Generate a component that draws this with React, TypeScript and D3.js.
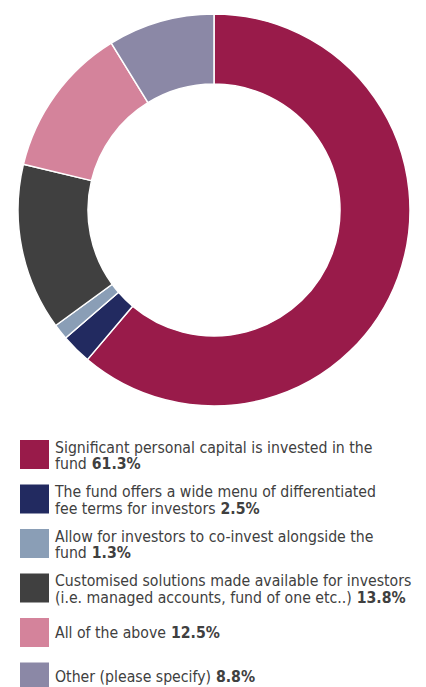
import React from "react";
import * as d3 from "d3";

const labels: string[][] = [
  ["Significant personal capital is invested in the", "fund"],
  ["The fund offers a wide menu of differentiated", "fee terms for investors"],
  ["Allow for investors to co-invest alongside the", "fund"],
  ["Customised solutions made available for investors", "(i.e. managed accounts, fund of one etc..)"],
  ["All of the above"],
  ["Other (please specify)"],
];
const values: number[] = [61.3, 2.5, 1.3, 13.8, 12.5, 8.8];
const colors: string[] = ["#991B4A", "#222A60", "#8A9EB6", "#404040", "#D4839B", "#8B88A6"];

const W = 426;
const H = 687;
const cx = 214;
const cy = 210;
const outerR = 196;
const innerR = 126;

const FONT = "'DejaVu Sans Condensed', 'DejaVu Sans', sans-serif";
const TEXT = "#404040";

export default function App() {
  const pie = d3.pie<number>().sort(null).value((d) => d)(values);
  const arc = d3.arc<d3.PieArcDatum<number>>().innerRadius(innerR).outerRadius(outerR);

  const rowY = d3.scaleLinear().domain([0, 1]).range([440, 484.5]);

  return (
    <svg width={W} height={H} style={{ position: "absolute", left: 0, top: 0 }}>
      <g transform={`translate(${cx},${cy})`}>
        {pie.map((p, i) => (
          <path key={i} d={arc(p) || ""} fill={colors[i]} stroke="#fff" strokeWidth={1.5} strokeLinejoin="round" />
        ))}
      </g>
      <g fontFamily={FONT} fontSize={15.7} fill={TEXT}>
        {labels.map((lines, i) => {
          const top = rowY(i);
          const pct = d3.format(".1f")(values[i]) + "%";
          return (
            <g key={i}>
              <rect x={20} y={top} width={29} height={29} fill={colors[i]} />
              {lines.map((ln, j) => {
                const isLast = j === lines.length - 1;
                const y = lines.length === 1 ? top + 19.5 : top + 12.5 + j * 16.5;
                return (
                  <text key={j} x={55} y={y}>
                    {ln}
                    {isLast ? (
                      <tspan fontWeight="bold">{" " + pct}</tspan>
                    ) : null}
                  </text>
                );
              })}
            </g>
          );
        })}
      </g>
    </svg>
  );
}
